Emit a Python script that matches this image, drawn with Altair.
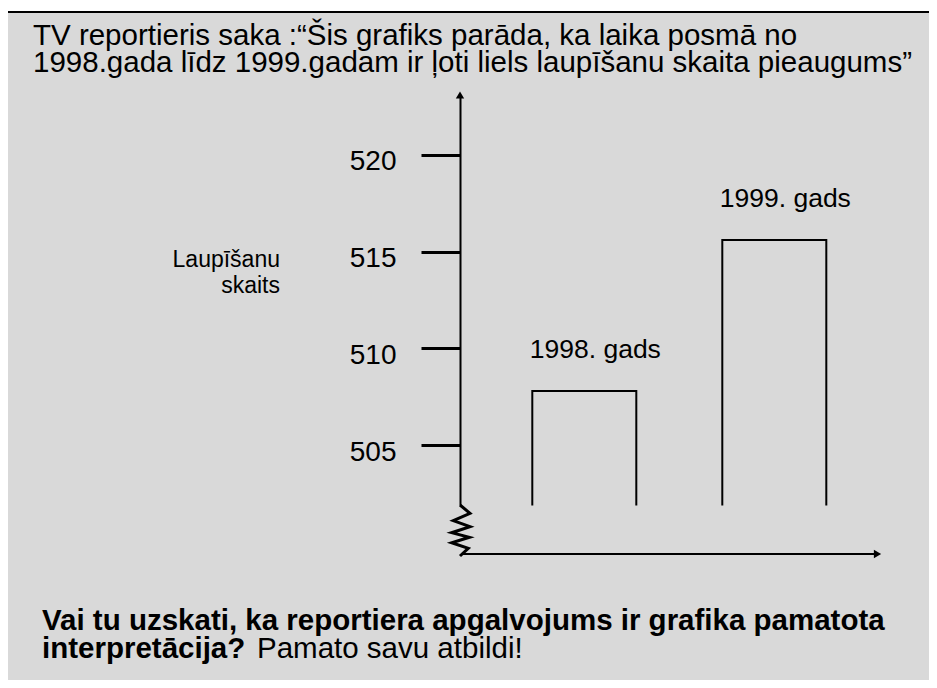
import altair as alt
import pandas as pd

# ---------------- data ----------------
years = ["1998", "1999"]
robberies = [507.8, 515.6]
bar_labels = ["1998. gads", "1999. gads"]
y_ticks = [505, 510, 515, 520]
y_domain = [501.9, 523.1]
bar_base = 501.4

title_lines = [
    "TV reportieris saka :\u201cŠis grafiks parāda, ka laika posmā no",
    "1998.gada līdz 1999.gadam ir ļoti liels laupīšanu skaita pieaugums\u201d",
]
y_title_lines = ["Laupīšanu", "skaits"]
question_bold = ["Vai tu uzskati, ka reportiera apgalvojums ir grafika pamatota", "interpretācija?"]
question_regular = "Pamato savu atbildi!"

# axis-break zigzag (decoration, pixel positions)
break_x = [452, 462, 445.3, 462, 443.7, 461.3, 443.7, 460.3, 452]
break_y = [497, 505.3, 512.7, 518.7, 524.7, 529.3, 534.7, 540.3, 548]

W, H = 921, 672
FONT = "Liberation Sans"
GRAY = "#D9D9D9"

one = pd.DataFrame({"k": [0]})


def text_layer(lines, x, y, size, weight="normal", align="left", line_height=28):
    return alt.Chart(one).mark_text(
        font=FONT, fontSize=size, fontWeight=weight, align=align,
        baseline="alphabetic", color="black", lineHeight=line_height,
    ).encode(x=alt.value(x), y=alt.value(y), text=alt.value(lines))


# background panel with border
panel = alt.Chart(one).mark_rect(fill=GRAY, stroke="black", strokeWidth=2).encode(
    x=alt.value(-2), y=alt.value(4), x2=alt.value(W + 20), y2=alt.value(H + 20)
)

bars_df = pd.DataFrame({"year": years, "value": robberies, "label": bar_labels,
                        "base": [bar_base] * len(years)})

x_scale = alt.Scale(domain=years, range=[481.3, 861.3], paddingInner=0.4526, paddingOuter=0.2263)
y_scale = alt.Scale(domain=y_domain, range=[497, 87], zero=False, nice=False)

bars = alt.Chart(bars_df).mark_bar(fill=GRAY, stroke="black", strokeWidth=2).encode(
    x=alt.X("year:N", scale=x_scale, axis=None),
    y=alt.Y("value:Q", scale=y_scale, axis=alt.Axis(
        values=y_ticks, offset=-452, domainColor="black", domainWidth=2,
        tickColor="black", tickWidth=3, tickSize=39, labelFont=FONT,
        labelFontSize=28, labelColor="black", labelPadding=25, labelOffset=7,
        grid=False, title=None, zindex=1, format="d")),
    y2="base:Q",
)

# hide the bottom edge of the open bars
cover = alt.Chart(one).mark_rect(fill=GRAY).encode(
    x=alt.value(470), x2=alt.value(880), y=alt.value(497.6), y2=alt.value(512)
)

bar_text = alt.Chart(bars_df).mark_text(
    font=FONT, fontSize=26.5, align="center", baseline="middle", color="black", dy=-41, dx=11
).encode(
    x=alt.X("year:N", scale=x_scale, axis=None),
    y=alt.Y("value:Q", scale=y_scale, axis=None),
    text="label:N",
)

zz_df = pd.DataFrame({"zx": break_x, "zy": break_y, "i": list(range(len(break_x)))})
zigzag = alt.Chart(zz_df).mark_line(color="black", strokeWidth=3, strokeJoin="miter").encode(
    x=alt.X("zx:Q", scale=None, axis=None),
    y=alt.Y("zy:Q", scale=None, axis=None),
    order="i:Q",
)

x_axis_line = alt.Chart(one).mark_rule(color="black", strokeWidth=2).encode(
    x=alt.value(453), x2=alt.value(866), y=alt.value(546)
)
arrow_up = alt.Chart(one).mark_point(shape="triangle-up", filled=True, color="black", size=70, opacity=1).encode(
    x=alt.value(452), y=alt.value(87)
)
arrow_right = alt.Chart(one).mark_point(shape="triangle-right", filled=True, color="black", size=70, opacity=1).encode(
    x=alt.value(869.5), y=alt.value(546)
)

title_txt = text_layer(title_lines, 25, 37, 29.5, line_height=27)
ytitle_txt = text_layer(y_title_lines, 272, 259, 23, align="right", line_height=26)
q_bold = text_layer(question_bold, 34, 622, 29.5, weight="bold", line_height=28)
q_reg = text_layer([question_regular], 249, 650, 29.5)

chart = alt.layer(
    panel, bars, cover, bar_text, zigzag, x_axis_line, arrow_up, arrow_right,
    title_txt, ytitle_txt, q_bold, q_reg,
).resolve_scale(x="independent", y="independent").properties(
    width=W, height=H, padding=0, autosize=alt.AutoSizeParams(type="none"),
).configure(background="white").configure_view(stroke=None)

chart.save("out.html", embed_options={"renderer": "svg", "actions": False})
